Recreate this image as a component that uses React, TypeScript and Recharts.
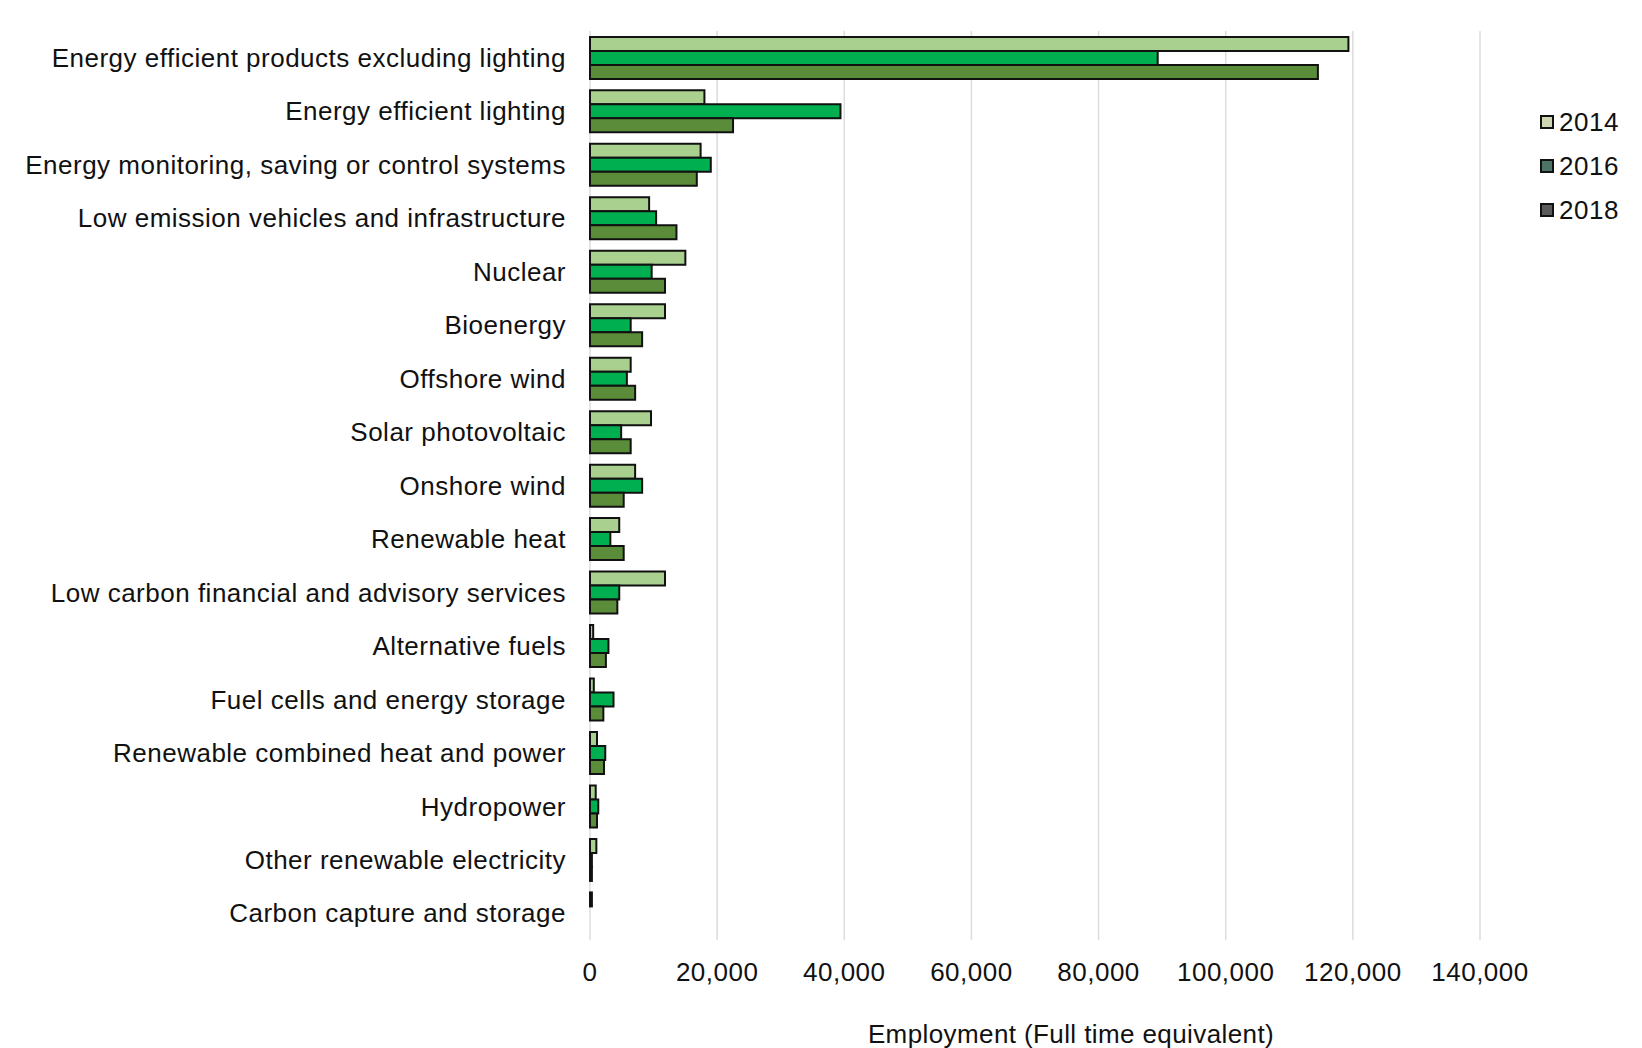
import React from 'react';
import { BarChart, Bar, XAxis, YAxis, CartesianGrid, Legend } from 'recharts';

const categories = [
  'Energy efficient products excluding lighting',
  'Energy efficient lighting',
  'Energy monitoring, saving or control systems',
  'Low emission vehicles and infrastructure',
  'Nuclear',
  'Bioenergy',
  'Offshore wind',
  'Solar photovoltaic',
  'Onshore wind',
  'Renewable heat',
  'Low carbon financial and advisory services',
  'Alternative fuels',
  'Fuel cells and energy storage',
  'Renewable combined heat and power',
  'Hydropower',
  'Other renewable electricity',
  'Carbon capture and storage',
];

const values2014 = [119300, 18000, 17400, 9300, 15000, 11800, 6400, 9600, 7100, 4600, 11800, 500, 600, 1100, 900, 1000, 300];
const values2016 = [89300, 39400, 19000, 10400, 9700, 6400, 5800, 4900, 8200, 3200, 4600, 2900, 3700, 2400, 1300, 300, 0];
const values2018 = [114500, 22500, 16800, 13600, 11800, 8200, 7100, 6400, 5300, 5300, 4300, 2500, 2100, 2200, 1100, 300, 0];

const xTicks = [0, 20000, 40000, 60000, 80000, 100000, 120000, 140000];
const seriesNames = ['2014', '2016', '2018'];
const seriesKeys = ['y2014', 'y2016', 'y2018'];
const seriesColors = ['#a9d08e', '#00b050', '#5a8c3a'];
const legendColors = ['#cfd6b4', '#4d7565', '#5a5a5a'];
const xLabel = 'Employment (Full time equivalent)';

const data = categories.map((name, i) => ({
  name,
  y2014: values2014[i],
  y2016: values2016[i],
  y2018: values2018[i],
}));

const FONT = '"Liberation Sans", Arial, Helvetica, sans-serif';
const TEXT = '#111';

function LegendContent() {
  return (
    <div style={{ fontFamily: FONT, fontSize: 26, color: TEXT }}>
      {seriesNames.map((n, i) => (
        <div key={n} style={{ display: 'flex', alignItems: 'center', height: 44 }}>
          <span
            style={{
              width: 10,
              height: 10,
              border: '2px solid #111',
              background: legendColors[i],
              marginRight: 5,
              display: 'inline-block',
            }}
          />
          <span style={{ letterSpacing: 0.5 }}>{n}</span>
        </div>
      ))}
    </div>
  );
}

export default function App() {
  const tickStyle = { fill: TEXT, fontSize: 26, fontFamily: FONT, letterSpacing: 0.5 };
  return (
    <div style={{ position: 'absolute', left: 0, top: 0, width: 1642, height: 1048, background: '#fff' }}>
      <BarChart
        width={1642}
        height={1048}
        data={data}
        layout="vertical"
        margin={{ top: 31, right: 162, bottom: 0, left: 0 }}
        barCategoryGap="11%"
        barGap={0}
      >
        <CartesianGrid horizontal={false} vertical stroke="#dcdcdc" strokeWidth={1.5} />
        <XAxis
          type="number"
          domain={[0, 140000]}
          ticks={xTicks}
          interval={0}
          tickFormatter={(v: number) => v.toLocaleString('en-US')}
          axisLine={false}
          tickLine={false}
          tickSize={0}
          tickMargin={23}
          height={108}
          tick={tickStyle}
          label={{
            value: xLabel,
            position: 'insideBottom',
            offset: 5,
            dx: 36,
            fill: TEXT,
            fontSize: 26,
            fontFamily: FONT,
            style: { letterSpacing: 0.4 },
          }}
        />
        <YAxis
          type="category"
          dataKey="name"
          width={590}
          interval={0}
          axisLine={false}
          tickLine={false}
          tickSize={0}
          tickMargin={24}
          tick={tickStyle}
        />
        <Legend
          layout="vertical"
          align="center"
          verticalAlign="middle"
          content={() => <LegendContent />}
          wrapperStyle={{ left: 1540, top: 100, width: 100, height: 140 }}
        />
        {seriesKeys.map((k, i) => (
          <Bar
            key={k}
            dataKey={k}
            name={seriesNames[i]}
            fill={seriesColors[i]}
            stroke="#111"
            strokeWidth={2}
            isAnimationActive={false}
          />
        ))}
      </BarChart>
    </div>
  );
}
